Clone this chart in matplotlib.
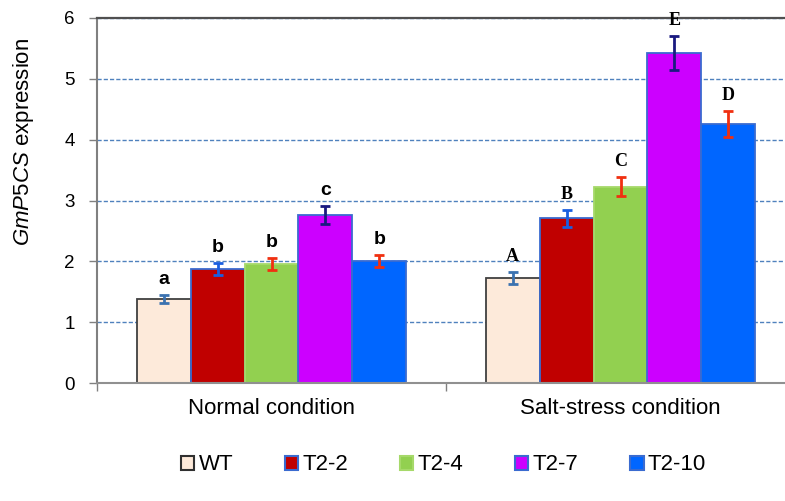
import matplotlib
matplotlib.use("Agg")
import matplotlib.pyplot as plt
from matplotlib.patches import Rectangle
import numpy as np

plt.rcParams['font.family'] = ['Liberation Sans', 'DejaVu Sans']
plt.rcParams['mathtext.fontset'] = 'custom'
plt.rcParams['mathtext.it'] = 'Liberation Sans:italic'
plt.rcParams['mathtext.rm'] = 'Liberation Sans'

# ---- data ----
conditions = ["Normal condition", "Salt-stress condition"]
lines = ["WT", "T2-2", "T2-4", "T2-7", "T2-10"]
normal_vals = [1.38, 1.87, 1.95, 2.76, 2.00]
salt_vals = [1.73, 2.71, 3.23, 5.43, 4.26]
normal_err = [0.07, 0.10, 0.10, 0.15, 0.10]
salt_err = [0.10, 0.14, 0.16, 0.28, 0.21]
normal_letters = ["a", "b", "b", "c", "b"]
salt_letters = ["A", "B", "C", "E", "D"]
yticks = [0, 1, 2, 3, 4, 5, 6]

face_colors = ["#FDEADA", "#C00000", "#92D050", "#CC00FF", "#0066FF"]
edge_colors = ["#404040", "#3A6BD0", "#A6D96A", "#3A6BD0", "#3A6BD0"]
err_colors = ["#3B72B0", "#1A5FE0", "#F03010", "#1A1A80", "#F03010"]

fig = plt.figure(figsize=(7.85, 5.01), dpi=100)
ax = fig.add_axes([97/785, 118/501, 698/785, 365/501])

w = 0.1547
x = np.arange(len(conditions))
vals = np.array([normal_vals, salt_vals])
errs = np.array([normal_err, salt_err])
letters = [normal_letters, salt_letters]

for i, name in enumerate(lines):
    xs = x + (i - 2) * w
    ax.bar(xs, vals[:, i], width=w, color=face_colors[i], edgecolor=edge_colors[i],
           linewidth=1.3, label=name, zorder=2)
    ax.errorbar(xs, vals[:, i], yerr=errs[:, i], fmt='none', ecolor=err_colors[i],
                elinewidth=2, capsize=3.3, capthick=2, zorder=3)
    for g in range(len(conditions)):
        top = vals[g, i] + errs[g, i]
        if g == 0:
            ax.annotate(letters[g][i], (xs[g], top), xytext=(0, 5), textcoords='offset points',
                        ha='center', va='bottom', fontsize=14, fontweight='bold',
                        annotation_clip=False)
        else:
            ax.annotate(letters[g][i], (xs[g], top), xytext=(0, 5), textcoords='offset points',
                        ha='center', va='bottom', fontsize=13, fontweight='bold',
                        family='Liberation Serif', annotation_clip=False)

ax.set_xlim(-0.5, 1.5)
ax.set_ylim(0, 6)
ax.set_yticks(yticks)
ax.set_yticklabels([str(t) for t in yticks], fontsize=13.5)
ax.tick_params(axis='y', direction='out', length=6, width=1, color='#808080', pad=10)

ax.set_xticks([-0.5, 0.5, 1.5])
ax.set_xticklabels([])
ax.set_xticks(x, minor=True)
ax.set_xticklabels(conditions, minor=True, fontsize=16)
ax.tick_params(axis='x', which='major', direction='out', length=6, width=1, color='#808080')
ax.tick_params(axis='x', which='minor', length=0, pad=11)

ax.yaxis.grid(True, linestyle=(0, (3, 1.5)), color='#4F81BD', linewidth=1)
ax.set_axisbelow(True)

ax.spines['left'].set_color('#808080')
ax.spines['left'].set_linewidth(1.5)
ax.spines['bottom'].set_color('#909090')
ax.spines['bottom'].set_linewidth(1.5)
ax.spines['top'].set_color('#505050')
ax.spines['top'].set_linewidth(1.6)
ax.spines['right'].set_visible(False)

ax.text(-0.106, 0.66, r'$\mathit{GmP5CS}$ expression', transform=ax.transAxes,
        rotation=90, ha='center', va='center', fontsize=16)

handles = [Rectangle((0, 0), 1, 1, facecolor=face_colors[i], edgecolor=edge_colors[i] if i else '#303030',
                     linewidth=1.5) for i in range(len(lines))]
fig.legend(handles, lines, loc='center left', bbox_to_anchor=(181/785, 36/501), ncol=5,
           frameon=False, fontsize=16, handlelength=0.6, handleheight=0.6,
           handletextpad=0.2, columnspacing=2.32, borderpad=0, borderaxespad=0)

fig.savefig("out.png", dpi=100)
